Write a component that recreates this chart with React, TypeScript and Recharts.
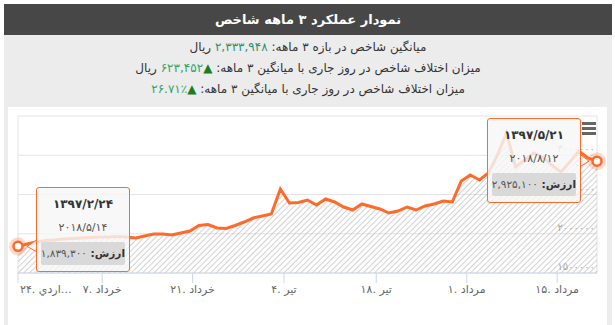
import React from "react";
import { AreaChart, Area, XAxis, YAxis, CartesianGrid, ReferenceDot, ReferenceLine } from "recharts";

const FONT = "'DejaVu Sans', sans-serif";
const ORANGE = "#ff6a2a";

// trading-day index -> index value (rial)
const dayIndex = Array.from({ length: 65 }, (_, i) => i);
const indexValues = [
  1839300, 1869400, 1894900, 1914000, 1920400, 1933100, 1939500, 1945900, 1952200, 1958600,
  1958600, 1965000, 1958600, 1945900, 1971300, 1996800, 1996800, 1984100, 2009600, 2035000,
  2105100, 2117800, 2073200, 2066900, 2105100, 2149700, 2200600, 2226100, 2251600, 2570100,
  2391700, 2398000, 2429900, 2366200, 2442700, 2404500, 2340800, 2302500, 2379000, 2347100,
  2315300, 2264300, 2289800, 2340800, 2302500, 2353500, 2379000, 2417200, 2404500, 2672000,
  2748400, 2684700, 2773900, 3003200, 3283400, 2850300, 2939500, 3028700, 2977700, 2875800,
  2786600, 2914000, 3054100, 2965000, 2925100,
];

const xTickPos = [0, 9.3, 19.3, 29.4, 39.6, 49.6, 59.6];
const xTickLabels = ["۲۴. اردي…", "۷. خرداد", "۲۱. خرداد", "۴. تیر", "۱۸. تیر", "۱. مرداد", "۱۵. مرداد"];
const yTicks = [1500000, 2000000, 2500000, 3000000, 3500000];
const yLabelTicks = [1500000, 2000000, 2500000, 3000000];

const firstPoint = { shamsi: "۱۳۹۷/۲/۲۴", miladi: "۲۰۱۸/۵/۱۴" };
const lastPoint = { shamsi: "۱۳۹۷/۵/۲۱", miladi: "۲۰۱۸/۸/۱۲" };

const faDigits = "۰۱۲۳۴۵۶۷۸۹";
const toFa = (s: string) => s.replace(/[0-9]/g, (d) => faDigits[+d]);
const faNum = (n: number) => toFa(n.toLocaleString("en-US"));

const data = dayIndex.map((i) => ({ i, v: indexValues[i] }));

function XTick(props: any) {
  const { x, y, payload } = props;
  const k = xTickPos.indexOf(payload.value);
  const first = k === 0;
  return (
    <text x={first ? x + 2 : x} y={y} dy="0.71em" textAnchor={first ? "start" : "middle"} fontSize={11} fill="#666" fontFamily={FONT}>
      {xTickLabels[k]}
    </text>
  );
}

function YLabel({ viewBox, text }: any) {
  if (!viewBox) return null;
  return (
    <text x={viewBox.x + viewBox.width - 2} y={viewBox.y - 3} textAnchor="end" fontSize={10} fill="#aaa" fontFamily={FONT}>
      {text}
    </text>
  );
}

function PointTip({ cx, cy, info, value, side }: any) {
  const w = 94;
  const h = 85;
  const bx = side === "left" ? cx + 18 : cx - 16 - w;
  const by = side === "left" ? cy - 59 : cy - 43;
  const edge = side === "left" ? bx : bx + w;
  const tip = side === "left" ? cx + 9 : cx - 8;
  return (
    <g>
      <foreignObject x={bx} y={by} width={w} height={h}>
        <div
          style={{
            boxSizing: "border-box",
            width: w,
            height: h,
            border: `1px solid ${ORANGE}`,
            borderRadius: 3,
            background: "rgba(247,247,247,0.82)",
            fontFamily: FONT,
            textAlign: "center",
            color: "#333",
          }}
        >
          <div style={{ fontWeight: "bold", fontSize: 12, marginTop: 9, lineHeight: "15px" }}>{info.shamsi}</div>
          <div style={{ fontSize: 11, marginTop: 9, lineHeight: "14px", color: "#555" }}>{info.miladi}</div>
          <div
            dir="rtl"
            style={{
              background: "#d9d9d9",
              margin: "7px 4px 0",
              height: 23,
              lineHeight: "23px",
              fontSize: 10.5,
              borderRadius: 2,
              whiteSpace: "nowrap",
              overflow: "hidden",
            }}
          >
            <span style={{ fontWeight: "bold", color: "#333" }}>ارزش: </span>
            <span style={{ color: "#555" }}>{faNum(value)}</span>
          </div>
        </div>
      </foreignObject>
      <path d={`M${edge},${cy - 6} L${tip},${cy} L${edge},${cy + 5}`} fill="rgba(247,247,247,0.82)" stroke={ORANGE} strokeWidth={1} />
      <circle cx={cx} cy={cy} r={9} fill={ORANGE} fillOpacity={0.25} />
      <circle cx={cx} cy={cy} r={4.5} fill="#fff" stroke={ORANGE} strokeWidth={2.5} />
    </g>
  );
}

export default function App() {
  const lastIdx = dayIndex.length - 1;
  return (
    <div style={{ position: "absolute", left: 0, top: 0, width: 615, height: 325, fontFamily: FONT }}>
      <div
        style={{
          position: "absolute",
          left: 4,
          top: 4,
          width: 608,
          height: 31,
          background: "#474747",
          color: "#fff",
          fontWeight: "bold",
          fontSize: 13,
          lineHeight: "31px",
          textAlign: "center",
        }}
        dir="rtl"
      >
        نمودار عملکرد ۳ ماهه شاخص
      </div>
      <div style={{ position: "absolute", left: 4, top: 35, width: 608, height: 290, background: "#ececec" }} />
      <div
        dir="rtl"
        style={{ position: "absolute", left: 4, top: 37, width: 608, textAlign: "center", fontSize: 12, lineHeight: "21px", color: "#333" }}
      >
        <div>
          میانگین شاخص در بازه ۳ ماهه: <span style={{ color: "#2f8f6f" }}>۲,۳۳۳,۹۴۸</span> ریال
        </div>
        <div>
          میزان اختلاف شاخص در روز جاری با میانگین ۳ ماهه: <span style={{ color: "#1e7b1e" }}>▲</span>
          <span style={{ color: "#33a36b" }}>۶۲۳,۴۵۲</span> ریال
        </div>
        <div>
          میزان اختلاف شاخص در روز جاری با میانگین ۳ ماهه: <span style={{ color: "#1e7b1e" }}>▲</span>
          <span style={{ color: "#33a36b" }}>٪۲۶.۷۱</span>
        </div>
      </div>
      <div style={{ position: "absolute", left: 8, top: 107, width: 599, height: 218, background: "#fff" }}>
        <AreaChart width={599} height={218} data={data} margin={{ top: 9, right: 10, left: 10, bottom: 22 }}>
          <defs>
            <pattern id="hatch" width="4" height="4" patternUnits="userSpaceOnUse" patternTransform="rotate(45)">
              <line x1="0" y1="0" x2="0" y2="4" stroke="#b4b4b4" strokeWidth="1.2" />
            </pattern>
          </defs>
          <CartesianGrid
            stroke="#e3e3e3"
            horizontal
            vertical
            verticalCoordinatesGenerator={({ offset }: any) => [offset.left, offset.left + offset.width]}
          />
          <XAxis
            dataKey="i"
            type="number"
            domain={[0, lastIdx]}
            ticks={xTickPos}
            interval={0}
            height={30}
            tickSize={10}
            tickMargin={2}
            stroke="#ccd6eb"
            tick={<XTick />}
          />
          <YAxis hide domain={[1500000, 3500000]} ticks={yTicks} />
          <Area
            type="linear"
            dataKey="v"
            stroke={ORANGE}
            strokeWidth={3}
            fill="url(#hatch)"
            fillOpacity={1}
            dot={false}
            activeDot={false}
            isAnimationActive={false}
          />
          {yLabelTicks.map((t) => (
            <ReferenceLine key={t} y={t} stroke="none" label={<YLabel text={toFa(String(t))} />} />
          ))}
          <ReferenceDot
            x={0}
            y={indexValues[0]}
            r={5}
            ifOverflow="visible"
            shape={(p: any) => <PointTip cx={p.cx} cy={p.cy} info={firstPoint} value={indexValues[0]} side="left" />}
          />
          <ReferenceDot
            x={lastIdx}
            y={indexValues[lastIdx]}
            r={5}
            ifOverflow="visible"
            shape={(p: any) => <PointTip cx={p.cx} cy={p.cy} info={lastPoint} value={indexValues[lastIdx]} side="right" />}
          />
        </AreaChart>
        <div style={{ position: "absolute", left: 574, top: 15 }}>
          {[0, 1, 2].map((k) => (
            <div key={k} style={{ width: 14, height: 3, background: "#666", marginBottom: 2 }} />
          ))}
        </div>
      </div>
    </div>
  );
}
